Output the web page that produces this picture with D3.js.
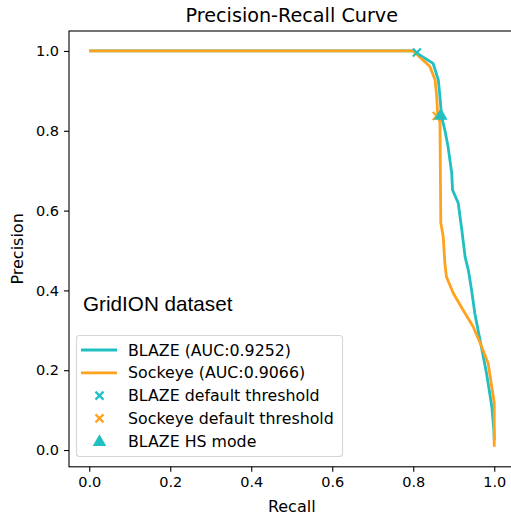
<!DOCTYPE html>
<html>
<head>
<meta charset="utf-8">
<script src="https://cdn.jsdelivr.net/npm/d3@7"></script>
<style>
  body { margin: 0; background: #fff; }
  text { font-family: "DejaVu Sans", sans-serif; fill: #000; }
</style>
</head>
<body>
<svg id="chart" width="511" height="517"></svg>
<script>
// recall / precision pairs
const blazeRecall = [0, 0.80, 0.849, 0.862, 0.866, 0.870, 0.878, 0.886, 0.895, 0.897, 0.911, 0.920, 0.928, 0.936, 0.944, 0.952, 0.960, 0.973, 0.981, 0.994, 0.999, 1.0];
const blazePrecision = [1.0, 1.0, 0.969, 0.927, 0.885, 0.835, 0.802, 0.760, 0.694, 0.652, 0.619, 0.551, 0.484, 0.451, 0.401, 0.343, 0.301, 0.234, 0.192, 0.109, 0.05, 0.025];
const sockeyeRecall = [0, 0.80, 0.841, 0.854, 0.858, 0.860, 0.866, 0.868, 0.874, 0.878, 0.882, 0.899, 0.923, 0.948, 0.969, 0.985, 1.0, 1.0];
const sockeyePrecision = [1.0, 1.0, 0.961, 0.927, 0.885, 0.845, 0.82, 0.569, 0.535, 0.469, 0.434, 0.393, 0.351, 0.309, 0.259, 0.217, 0.118, 0.008];
const xTicks = [0, 0.2, 0.4, 0.6, 0.8, 1.0];
const yTicks = [0, 0.2, 0.4, 0.6, 0.8, 1.0];
const blazeDefault = [0.809, 0.996];
const sockeyeDefault = [0.858, 0.837];
const blazeHS = [0.868, 0.84];
const legendLabels = ["BLAZE (AUC:0.9252)", "Sockeye (AUC:0.9066)", "BLAZE default threshold", "Sockeye default threshold", "BLAZE HS mode"];

const teal = "#1fbfc2";
const orange = "#ffa31f";

const svg = d3.select("#chart");
const mLeft = 69, mRight = 514.5, mTop = 31, mBottom = 466.8;

const x = d3.scaleLinear().domain([-0.05, 1.05]).range([mLeft, mRight]);
const y = d3.scaleLinear().domain([-0.042, 1.05]).range([mBottom, mTop]);

const line = d3.line().x(d => x(d[0])).y(d => y(d[1]));

// curves
svg.append("path")
    .datum(d3.zip(blazeRecall, blazePrecision))
    .attr("d", line)
    .attr("fill", "none")
    .attr("stroke", teal)
    .attr("stroke-width", 2.8)
    .attr("stroke-linejoin", "round");

svg.append("path")
    .datum(d3.zip(sockeyeRecall, sockeyePrecision))
    .attr("d", line)
    .attr("fill", "none")
    .attr("stroke", orange)
    .attr("stroke-width", 2.8)
    .attr("stroke-linejoin", "round");

// markers
function drawX(g, cx, cy, color, s) {
    g.append("path")
        .attr("d", `M${cx - s},${cy - s}L${cx + s},${cy + s}M${cx - s},${cy + s}L${cx + s},${cy - s}`)
        .attr("stroke", color)
        .attr("stroke-width", 2.2)
        .attr("fill", "none");
}
function drawTri(g, cx, cy, color, s) {
    g.append("path")
        .attr("d", d3.symbol().type(d3.symbolTriangle).size(s)())
        .attr("transform", `translate(${cx},${cy + 1})`)
        .attr("fill", color);
}
drawX(svg, x(blazeDefault[0]), y(blazeDefault[1]), teal, 4);
drawX(svg, x(sockeyeDefault[0]), y(sockeyeDefault[1]), orange, 4);
drawTri(svg, x(blazeHS[0]), y(blazeHS[1]), teal, 80);

// frame
svg.append("rect")
    .attr("x", mLeft).attr("y", mTop)
    .attr("width", mRight - mLeft).attr("height", mBottom - mTop)
    .attr("fill", "none").attr("stroke", "#000").attr("stroke-width", 1.1);

// axes
const xAxis = svg.append("g")
    .attr("transform", `translate(0,${mBottom})`)
    .call(d3.axisBottom(x).tickValues(xTicks).tickFormat(d3.format(".1f")).tickSize(5).tickPadding(5));
const yAxis = svg.append("g")
    .attr("transform", `translate(${mLeft},0)`)
    .call(d3.axisLeft(y).tickValues(yTicks).tickFormat(d3.format(".1f")).tickSize(5).tickPadding(5));
[xAxis, yAxis].forEach(a => {
    a.select(".domain").remove();
    a.selectAll(".tick line").attr("stroke", "#000").attr("stroke-width", 1.1);
    a.selectAll(".tick text").style("font-family", "DejaVu Sans").style("font-size", "14.5px").attr("fill", "#000");
});

// titles
svg.append("text")
    .attr("x", (mLeft + mRight) / 2).attr("y", 22)
    .attr("text-anchor", "middle")
    .style("font-size", "19.2px")
    .text("Precision-Recall Curve");
svg.append("text")
    .attr("x", (mLeft + mRight) / 2).attr("y", 511.5)
    .attr("text-anchor", "middle")
    .style("font-size", "16px")
    .text("Recall");
svg.append("text")
    .attr("transform", `translate(23,${(mTop + mBottom) / 2}) rotate(-90)`)
    .attr("text-anchor", "middle")
    .style("font-size", "16px")
    .text("Precision");

svg.append("text")
    .attr("x", 83).attr("y", 311)
    .style("font-family", "'Liberation Sans', Arial, sans-serif")
    .style("font-size", "20.7px")
    .text("GridION dataset");

// legend
const legend = svg.append("g");
legend.append("rect")
    .attr("x", 76.5).attr("y", 335.5)
    .attr("width", 266).attr("height", 121)
    .attr("rx", 3)
    .attr("fill", "#fff").attr("fill-opacity", 0.8)
    .attr("stroke", "#d6d6d6").attr("stroke-width", 1.1);

const rowY = i => 350 + i * 22.8;
legend.append("line").attr("x1", 81).attr("x2", 117).attr("y1", rowY(0)).attr("y2", rowY(0))
    .attr("stroke", teal).attr("stroke-width", 2.8);
legend.append("line").attr("x1", 81).attr("x2", 117).attr("y1", rowY(1)).attr("y2", rowY(1))
    .attr("stroke", orange).attr("stroke-width", 2.8);
drawX(legend, 99.5, rowY(2), teal, 4);
drawX(legend, 99.5, rowY(3), orange, 4);
drawTri(legend, 99.5, rowY(4), teal, 80);

legend.selectAll("text.lab")
    .data(legendLabels)
    .join("text")
    .attr("class", "lab")
    .attr("x", 128)
    .attr("y", (d, i) => rowY(i) + 5.5)
    .style("font-size", "15.8px")
    .text(d => d);
</script>
</body>
</html>
